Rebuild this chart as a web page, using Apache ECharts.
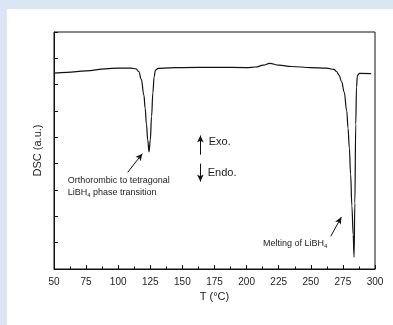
<!DOCTYPE html>
<html>
<head>
<meta charset="utf-8">
<script src="https://cdn.jsdelivr.net/npm/echarts@6/dist/echarts.min.js"></script>
<style>
  html, body { margin: 0; padding: 0; }
  body { width: 393px; height: 325px; background: #dae6f5; position: relative; overflow: hidden; }
  #panel { position: absolute; left: 7px; top: 9px; right: 0; bottom: 0; background: #ffffff; }
  #chart { position: absolute; left: 0; top: 0; width: 393px; height: 325px; }
</style>
</head>
<body>
<div id="panel"></div>
<div id="chart"></div>
<script>
// DSC trace (T in °C, signal in arbitrary units)
const temps = [50, 60, 75, 90, 100, 110, 114, 116, 118, 120, 121, 122, 123, 124, 125, 126, 127, 128, 129, 131,
  140, 150, 175, 200, 207, 213, 218, 225, 235, 250, 262, 268, 270, 272, 274, 276, 278, 279, 280, 281, 282, 283, 283.7,
  284.3, 285, 285.6, 286.3, 288, 297];
const dsc = [7.44, 7.47, 7.52, 7.60, 7.63, 7.63, 7.60, 7.50, 7.20, 6.60, 6.10, 5.50, 4.90, 4.45, 4.90, 5.80, 6.70, 7.30, 7.55, 7.62,
  7.64, 7.65, 7.66, 7.65, 7.67, 7.74, 7.81, 7.74, 7.69, 7.65, 7.63, 7.58, 7.50, 7.36, 7.12, 6.72, 6.00, 5.35, 4.60, 3.60, 2.40, 1.30, 0.45,
  2.50, 5.50, 6.90, 7.35, 7.43, 7.42];

const xTicks = { min: 50, max: 300, step: 25 };

// annotation texts: [T, y, text]
const notes = [
  [60.7, 3.35, 'Orthorombic to tetragonal'],
  [60.7, 2.90, 'LiBH{sub|4} phase transition'],
  [212.8, 0.96, 'Melting of LiBH{sub|4}']
];
const bigNotes = [
  [170.5, 4.81, 'Exo.'],
  [169.7, 3.63, 'Endo.']
];
// arrows: [fromT, fromY, toT, toY]
const arrows = [
  [107.4, 3.67, 118.8, 4.38],
  [164.0, 4.34, 164.0, 5.07],
  [164.0, 4.00, 164.0, 3.32],
  [265.5, 1.24, 273.8, 1.97]
];

const font = 'Liberation Sans, Arial, sans-serif';
const chart = echarts.init(document.getElementById('chart'));

const subRich = { sub: { fontSize: 6, fontFamily: font, color: '#222', verticalAlign: 'bottom', padding: [5, 0, 0, 0] } };

chart.setOption({
  animation: false,
  backgroundColor: 'transparent',
  grid: { left: 54, right: 18, top: 32, bottom: 56, show: true, borderColor: '#111', borderWidth: 1 },
  xAxis: {
    type: 'value',
    min: xTicks.min, max: xTicks.max, interval: xTicks.step,
    name: 'T (°C)', nameLocation: 'middle', nameGap: 19,
    nameTextStyle: { fontSize: 11, fontFamily: font, color: '#222' },
    axisLine: { lineStyle: { color: '#111', width: 1 } },
    axisTick: { inside: true, length: 4, lineStyle: { color: '#111' } },
    minorTick: { show: true, splitNumber: 2, length: 2.5, lineStyle: { color: '#111' } },
    axisLabel: { fontSize: 10, fontFamily: font, color: '#222', margin: 8 },
    splitLine: { show: false }
  },
  yAxis: {
    type: 'value',
    min: 0, max: 9, interval: 1,
    name: 'DSC (a.u.)', nameLocation: 'middle', nameGap: 11,
    nameTextStyle: { fontSize: 11, fontFamily: font, color: '#222' },
    axisLine: { lineStyle: { color: '#111', width: 1 } },
    axisTick: { inside: true, length: 4, lineStyle: { color: '#111' } },
    axisLabel: { show: false },
    splitLine: { show: false }
  },
  series: [
    {
      type: 'line',
      data: temps.map((t, i) => [t, dsc[i]]),
      showSymbol: false,
      smooth: 0.4,
      smoothMonotone: 'x',
      lineStyle: { color: '#111', width: 1.2 },
      markLine: {
        silent: true,
        symbol: ['none', 'arrow'],
        symbolSize: [5, 7],
        label: { show: false },
        lineStyle: { color: '#111', width: 1, type: 'solid' },
        data: arrows.map(a => [{ coord: [a[0], a[1]] }, { coord: [a[2], a[3]] }])
      },
      markPoint: {
        silent: true,
        symbolSize: 0,
        data: notes.map(n => ({
          coord: [n[0], n[1]],
          label: { show: true, position: 'right', distance: 0, formatter: n[2],
                   fontSize: 9, fontFamily: font, color: '#222', rich: subRich }
        })).concat(bigNotes.map(n => ({
          coord: [n[0], n[1]],
          label: { show: true, position: 'right', distance: 0, formatter: n[2],
                   fontSize: 11, fontFamily: font, color: '#222' }
        })))
      }
    }
  ]
});
</script>
</body>
</html>
